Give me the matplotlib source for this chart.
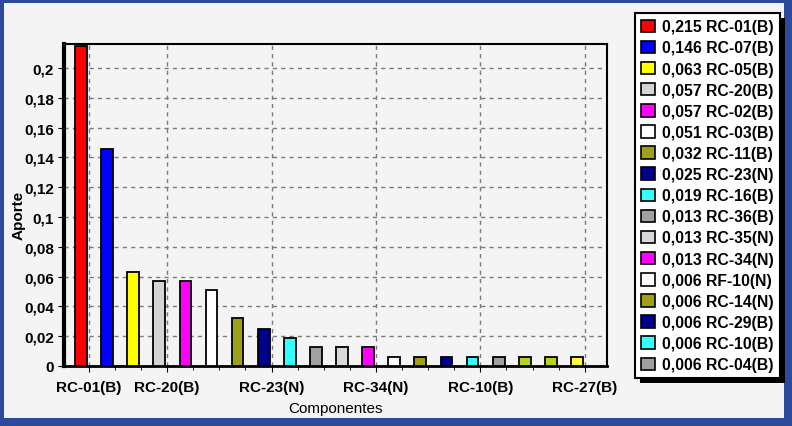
import matplotlib
matplotlib.use('Agg')
import matplotlib.pyplot as plt
from matplotlib.patches import Patch, Rectangle
from matplotlib.ticker import FuncFormatter, FixedLocator

plt.rcParams['font.family'] = ['Liberation Sans', 'DejaVu Sans']

## datos
componentes = ['RC-01(B)', 'RC-07(B)', 'RC-05(B)', 'RC-20(B)', 'RC-02(B)', 'RC-03(B)',
               'RC-11(B)', 'RC-23(N)', 'RC-16(B)', 'RC-36(B)', 'RC-35(N)', 'RC-34(N)',
               'RF-10(N)', 'RC-14(N)', 'RC-29(B)', 'RC-10(B)', 'RC-04(B)',
               'RC-?1', 'RC-?2', 'RC-27(B)']
aporte = [0.215, 0.146, 0.063, 0.057, 0.057, 0.051, 0.032, 0.025, 0.019, 0.013,
          0.013, 0.013, 0.006, 0.006, 0.006, 0.006, 0.006, 0.006, 0.006, 0.006]
colores = ['#ff0000', '#0000ff', '#ffff00', '#d4d4d4', '#ff00ff', '#ffffff',
           '#a0a018', '#00008c', '#33ffff', '#a0a0a0', '#d8d8d8', '#ff00ff',
           '#ffffff', '#a0a018', '#00008c', '#33ffff', '#a0a0a0',
           '#bcd020', '#bcd020', '#ffff33']
n_leyenda = 17
etiquetas_x = ['RC-01(B)', 'RC-20(B)', 'RC-23(N)', 'RC-34(N)', 'RC-10(B)', 'RC-27(B)']
idx_etiquetas = [0, 3, 7, 11, 15, 19]

fondo = '#f4f4f4'
borde = '#2e4a9c'

fig = plt.figure(figsize=(7.92, 4.27), dpi=100, facecolor=borde)
fig.patches.append(Rectangle((4 / 792, 8 / 427), 780 / 792, 415 / 427,
                             transform=fig.transFigure, facecolor=fondo,
                             edgecolor='none', zorder=-10))

ax = fig.add_axes([63.5 / 792, 1 - 367 / 427, (607 - 63.5) / 792, (367 - 45) / 427])
ax.set_zorder(2)
ax.set_facecolor(fondo)

x = list(range(len(aporte)))
ax.bar(x, aporte, width=0.45, color=colores, edgecolor='black', linewidth=1.3, zorder=3)

ax.set_xlim(-0.67, 20.15)
ax.set_ylim(0, 0.2162)

# ticks: las etiquetas caen en el borde derecho de la barra
off = 0.3
ax.xaxis.set_major_locator(FixedLocator([i + off for i in idx_etiquetas]))
ax.set_xticklabels(etiquetas_x, fontsize=11, fontweight='bold')
ax.xaxis.set_minor_locator(FixedLocator([i + off for i in range(-1, 21)]))
ax.tick_params(axis='x', which='major', length=4, pad=6)
ax.tick_params(axis='x', which='minor', length=3)

ax.set_yticks([0, 0.02, 0.04, 0.06, 0.08, 0.1, 0.12, 0.14, 0.16, 0.18, 0.2])
ax.yaxis.set_major_formatter(FuncFormatter(lambda v, p: ('%g' % round(v, 3)).replace('.', ',')))
ax.tick_params(axis='y', labelsize=11, length=4, pad=3)
for t in ax.get_yticklabels():
    t.set_fontweight('bold')

ax.grid(True, which='major', color='#7a7a7a', linestyle=(0, (3, 3)), linewidth=1, zorder=1)
ax.set_axisbelow(True)

ax.spines['left'].set_linewidth(3)
ax.spines['bottom'].set_linewidth(2)
ax.spines['top'].set_linewidth(1.5)
ax.spines['right'].set_linewidth(1.5)

ax.set_xlabel('Componentes', fontsize=11, labelpad=5)
ax.set_ylabel('Aporte', fontsize=11, fontweight='bold')
ax.yaxis.set_label_coords(-0.07, 0.47)

## leyenda
handles = [Patch(facecolor=colores[i], edgecolor='black', linewidth=1.2) for i in range(n_leyenda)]
textos = [('%.3f' % aporte[i]).replace('.', ',') + ' ' + componentes[i] for i in range(n_leyenda)]
leg = fig.legend(handles, textos, loc='upper left', bbox_to_anchor=(635 / 792, 1 - 14 / 427),
                 prop={'size': 11.3, 'weight': 'bold'}, frameon=True, fancybox=False,
                 framealpha=1, handlelength=0.85, handleheight=0.85, handletextpad=0.45,
                 labelspacing=0.39, borderpad=0.4, borderaxespad=0)
leg.get_frame().set_edgecolor('black')
leg.get_frame().set_linewidth(1.5)
leg.get_frame().set_facecolor('white')
leg.set_zorder(5)

fig.canvas.draw()
bb = leg.get_window_extent()
sombra = Rectangle((bb.x0 + 5, bb.y0 - 5), bb.width, bb.height, transform=None,
                   facecolor='black', edgecolor='none', zorder=4)
fig.patches.append(sombra)

fig.savefig('out.png', dpi=100, facecolor=borde)
